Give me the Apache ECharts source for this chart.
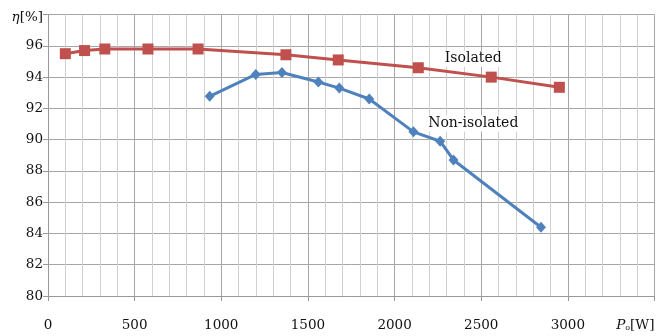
<!DOCTYPE html>
<html><head><meta charset="utf-8">
<script src="https://cdn.jsdelivr.net/npm/echarts@6/dist/echarts.min.js"></script>
<style>html,body{margin:0;padding:0;background:#fff}#c{width:672px;height:336px}</style>
</head><body><div id="c"></div>
<script>
const isolatedX = [100, 211, 328, 577, 866, 1373, 1675, 2137, 2558, 2951];
const isolatedY = [95.5, 95.7, 95.8, 95.8, 95.8, 95.43, 95.1, 94.6, 94.0, 93.35];
const nonIsolatedX = [933, 1199, 1350, 1560, 1681, 1854, 2109, 2263, 2340, 2845];
const nonIsolatedY = [92.77, 94.17, 94.3, 93.69, 93.3, 92.6, 90.5, 89.9, 88.7, 84.4];
const xTicks = [0, 500, 1000, 1500, 2000, 2500, 3000];
const yTicks = [80, 82, 84, 86, 88, 90, 92, 94, 96];
const labelNames = ['Isolated', 'Non-isolated'];
const labelX = [2454, 2454];
const labelY = [95.17, 91.03];

const font = 'DejaVu Serif';
const txt = '#111';
const chart = echarts.init(document.getElementById('c'));
const pair = (xs, ys) => xs.map((x, i) => [x, ys[i]]);
chart.setOption({
  animation: false,
  backgroundColor: '#fff',
  grid: {left: 48, right: 17.5, top: 14.6, bottom: 40},
  xAxis: {
    type: 'value', min: 0, max: 3500, interval: 500,
    name: '{i|P}{s|o}{n|[W]}', nameLocation: 'end', nameGap: 0,
    nameTextStyle: {
      align: 'right', verticalAlign: 'top', padding: [22, 0, 0, 0],
      rich: {
        i: {fontStyle: 'italic', fontFamily: font, fontSize: 13.5, color: txt},
        s: {fontFamily: font, fontSize: 8, color: txt, padding: [6, 0, 0, 0]},
        n: {fontFamily: font, fontSize: 13.5, color: txt}
      }
    },
    axisLine: {show: true, lineStyle: {color: '#999', width: 1}},
    axisTick: {show: true, length: 5, lineStyle: {color: '#999'}},
    axisLabel: {
      margin: 22, color: txt, fontFamily: font, fontSize: 13.5,
      formatter: v => xTicks.includes(v) ? String(v) : ''
    },
    splitLine: {show: true, lineStyle: {color: '#a6a6a6', width: 1}},
    minorTick: {show: false, splitNumber: 5},
    minorSplitLine: {show: true, lineStyle: {color: '#d0d0d0', width: 1}}
  },
  yAxis: {
    type: 'value', min: 80, max: 98, interval: 2,
    axisLine: {show: true, lineStyle: {color: '#999', width: 1}},
    axisTick: {show: true, length: 5, lineStyle: {color: '#999'}},
    axisLabel: {
      margin: 5, color: txt, fontFamily: font, fontSize: 13.5,
      formatter: v => yTicks.includes(v) ? String(v) : (v === 98 ? '{i|η}{n|[%]}' : ''),
      rich: {
        i: {fontStyle: 'italic', fontFamily: font, fontSize: 13.5, color: txt, padding: [6, 0, 0, 0]},
        n: {fontFamily: font, fontSize: 13.5, color: txt, padding: [6, 0, 0, 0]}
      }
    },
    splitLine: {show: true, lineStyle: {color: '#a6a6a6', width: 1}}
  },
  series: [
    {
      name: 'Isolated', type: 'line', data: pair(isolatedX, isolatedY),
      symbol: 'rect', symbolSize: 11, color: '#C0504D',
      lineStyle: {width: 3, color: '#C0504D'}, itemStyle: {color: '#C0504D'}
    },
    {
      name: 'Non-isolated', type: 'line', data: pair(nonIsolatedX, nonIsolatedY),
      symbol: 'diamond', symbolSize: [10, 11], color: '#4F81BD',
      lineStyle: {width: 3, color: '#4F81BD'}, itemStyle: {color: '#4F81BD'}
    },
    {
      name: 'labels', type: 'scatter', symbolSize: 1, z: 10,
      itemStyle: {color: 'rgba(0,0,0,0)', opacity: 1},
      data: labelNames.map((n, i) => ({name: n, value: [labelX[i], labelY[i]]})),
      label: {show: true, position: 'inside', formatter: '{b}', color: txt, fontFamily: font, fontSize: 14, backgroundColor: '#fff', padding: [1, 2]}
    }
  ]
});
</script></body></html>
